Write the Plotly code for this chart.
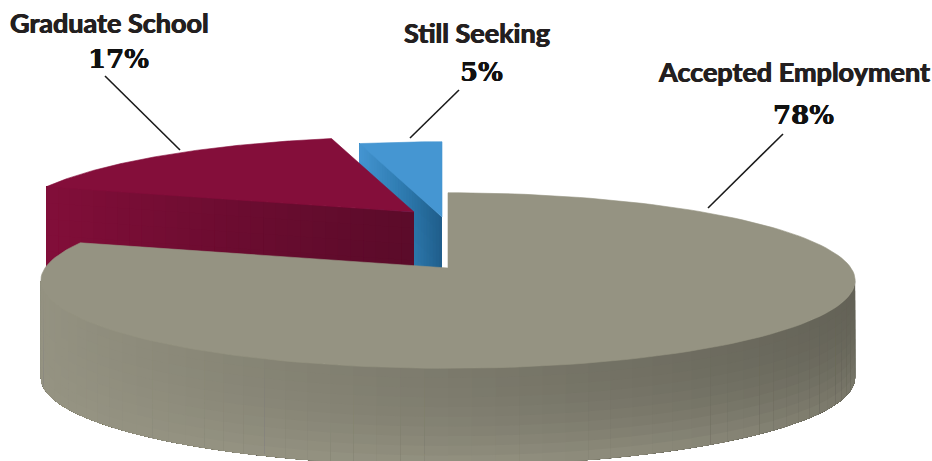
import numpy as np
import plotly.graph_objects as go

# ---- data ----
categories = ["Accepted Employment", "Graduate School", "Still Seeking"]
values = [78, 17, 5]

# ---- styling / geometry ----
W, H = 932, 461
TOP = {"Accepted Employment": (149, 147, 130),
       "Graduate School": (132, 14, 58),
       "Still Seeking": (69, 150, 210)}
APEX = {"Accepted Employment": (448, 268),
        "Graduate School": (414, 212),
        "Still Seeking": (442, 217)}
NAME_POS = {"Accepted Employment": (794, 71.5),
            "Graduate School": (109, 22.5),
            "Still Seeking": (477, 32)}
VALUE_POS = {"Accepted Employment": (803, 115),
             "Graduate School": (118, 59),
             "Still Seeking": (481, 72)}
LEADERS = {"Accepted Employment": (783, 134, 708, 208),
           "Graduate School": (105, 76, 180, 150),
           "Still Seeking": (459, 90, 410, 138)}
K = 1 / 7
A = 86.0
F = 403.0
DEPTH = 97.0
WARP_1 = 5.3
WARP_2 = 4.9


def display_angle(theta):
    th = np.radians(theta)
    return theta - WARP_1 * np.sin(th) - WARP_2 * np.sin(2 * th)


def project(disp_deg, apex, r=1.0, drop=0.0):
    th = np.radians(disp_deg)
    X, Y = r * np.sin(th), r * np.cos(th)
    d = 1 + K * Y
    return apex[0] + F * X / d, apex[1] - A * Y / d + drop


def rgb(c):
    return "rgb(%d,%d,%d)" % tuple(int(round(v)) for v in c)


def lerp(a, b, s):
    return tuple(x + (y - x) * s for x, y in zip(a, b))


fig = go.Figure()


def poly(xs, ys, color, name, width=0.0):
    fig.add_trace(go.Scatter(
        x=list(xs) + [xs[0]], y=list(ys) + [ys[0]], mode="lines", fill="toself",
        fillcolor=color, line=dict(color=color, width=width),
        hoverinfo="skip", name=name, showlegend=False))


# Angular extents from the values, clockwise from twelve o'clock
total = sum(values)
edges = np.cumsum([0] + values) / total * 360
span = {c: (display_angle(edges[i]), display_angle(edges[i + 1]))
        for i, c in enumerate(categories)}


def top_face(cat):
    a0, a1 = span[cat]
    t = np.linspace(a0, a1, 160)
    x, y = project(t, APEX[cat])
    xs = [APEX[cat][0]] + list(x)
    ys = [APEX[cat][1]] + list(y)
    poly(xs, ys, rgb(TOP[cat]), cat, width=0.6)


def radial_wall(cat, disp, colour_fn, ns=30, nt=6):
    """Painter's order: every cell runs on under the next, so no seams show."""
    apex = APEX[cat]
    for i in range(ns):
        s0, s1 = i / ns, 1.0
        for j in range(nt):
            t0, t1 = j / nt, 1.0
            p = [project(disp, apex, s0, t0 * DEPTH), project(disp, apex, s1, t0 * DEPTH),
                 project(disp, apex, s1, t1 * DEPTH), project(disp, apex, s0, t1 * DEPTH)]
            poly([q[0] for q in p], [q[1] for q in p],
                 rgb(colour_fn((i + 0.5) / ns, (j + 0.5) / nt)), cat)


def blue_colour(s, t):
    if s < 0.4:
        c = lerp((31, 93, 138), (44, 120, 172), s / 0.4)
    else:
        c = lerp((44, 120, 172), (69, 150, 210), (s - 0.4) / 0.6)
    return lerp(c, (52, 130, 186), 0.5 * t * min(1, s * 3))


def red_colour(s, t):
    # s = 0 at the apex (dark), s = 1 at the outer rim (near top colour)
    c = lerp((92, 11, 42), (130, 14, 57), s ** 1.1)
    return lerp(c, (84, 9, 38), 0.3 * t * (1 - s))


def grey_colour(u, t):
    base = TOP["Accepted Employment"]
    dark = 0.34 * u * (1 - t ** 2) + 0.20 * u ** 4 * t ** 2
    return tuple(v * (1 - dark) for v in base)


# Back to front: blue, red, grey
radial_wall("Still Seeking", span["Still Seeking"][0], blue_colour)
top_face("Still Seeking")
radial_wall("Graduate School", span["Graduate School"][0], red_colour)
top_face("Graduate School")

# Outer wall of the large slice, right to left, each cell running on under the next
cat = "Accepted Employment"
n_ang, n_dep = 56, 10
ang = np.linspace(98.2, 261.8, n_ang + 1)
for i in range(n_ang):
    a_mid = (ang[i] + ang[i + 1]) / 2
    sweep = np.linspace(ang[i], 261.8, 70)
    u = (np.sin(np.radians(a_mid)) + 1) / 2
    for j in range(n_dep):
        t0 = j / n_dep
        x_up, y_up = project(sweep, APEX[cat], 1, t0 * DEPTH)
        x_lo, y_lo = project(sweep[::-1], APEX[cat], 1, DEPTH)
        poly(list(x_up) + list(x_lo), list(y_up) + list(y_lo),
             rgb(grey_colour(u, (j + 0.5) / n_dep)), cat)
top_face(cat)

# Labels and leader lines
annotations, shapes = [], []
for c, v in zip(categories, values):
    x, y = NAME_POS[c]
    annotations.append(dict(x=x, y=y, xref="x", yref="y", text=c, showarrow=False,
                            xanchor="center", yanchor="middle",
                            font=dict(family="Lato", size=27, color="#231f20", weight=700,
                                      shadow="0.5px 0 0 #231f20, -0.5px 0 0 #231f20")))
    x, y = VALUE_POS[c]
    annotations.append(dict(x=x, y=y, xref="x", yref="y", text=f"{v}%", showarrow=False,
                            xanchor="center", yanchor="middle",
                            font=dict(family="DejaVu Serif", size=26, color="#111111", weight=700,
                                      shadow="0.3px 0 0 #111111, -0.3px 0 0 #111111")))
    x0, y0, x1, y1 = LEADERS[c]
    shapes.append(dict(type="line", xref="x", yref="y", x0=x0, y0=y0, x1=x1, y1=y1,
                       line=dict(color="#1a1a1a", width=1.6)))

fig.update_layout(
    width=W, height=H, margin=dict(l=0, r=0, t=0, b=0),
    paper_bgcolor="white", plot_bgcolor="white", showlegend=False,
    xaxis=dict(range=[0, W], visible=False, fixedrange=True),
    yaxis=dict(range=[H, 0], visible=False, fixedrange=True),
    annotations=annotations, shapes=shapes,
)
fig.write_html("out.html", config={"displayModeBar": False},
               post_script="document.body.style.margin='0';")
